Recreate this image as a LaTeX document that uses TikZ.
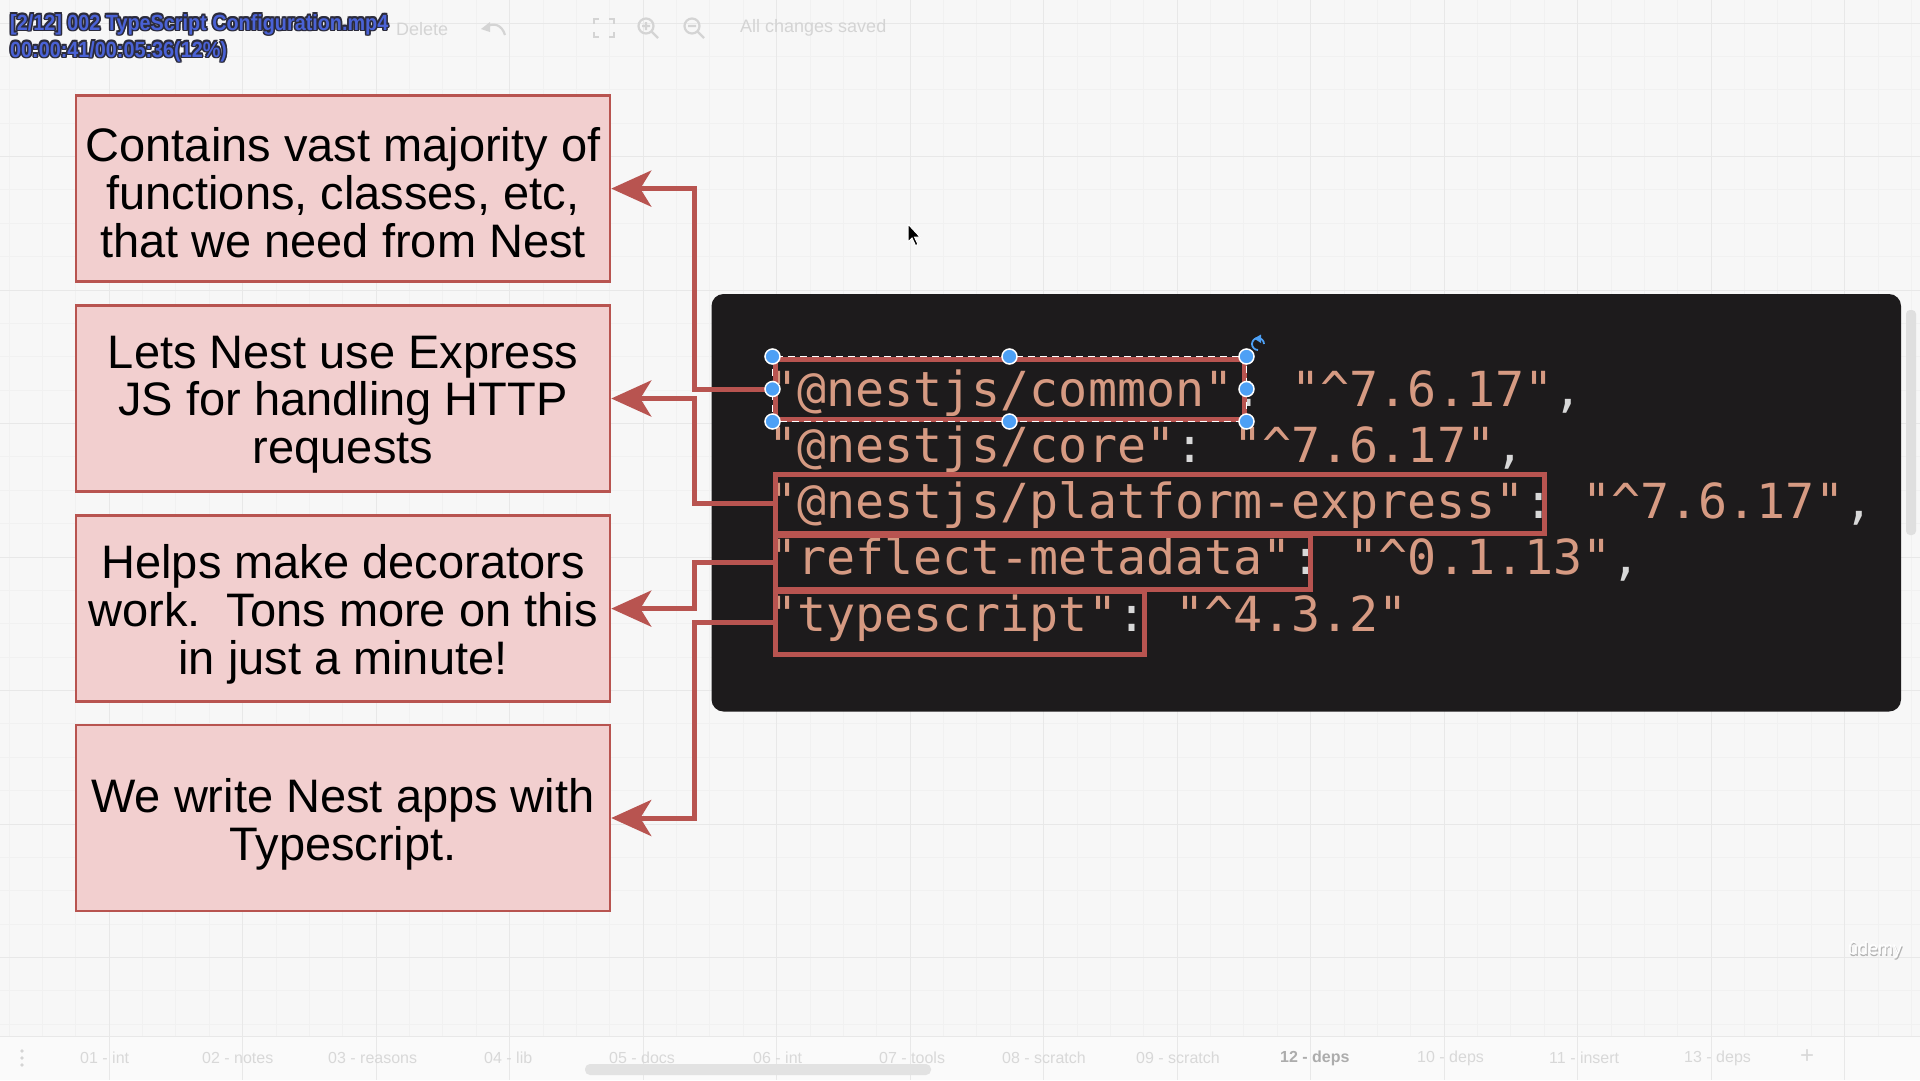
\documentclass[tikz,border=0pt]{standalone}
\usepackage{fontspec}
\setmainfont{Liberation Sans}
\newfontfamily\codefont{DejaVu Sans Mono}
\newfontfamily\titlefont[FakeStretch=0.9]{Liberation Sans}
\usetikzlibrary{arrows.meta}
\definecolor{bg}{HTML}{F7F7F7}
\definecolor{gridmaj}{HTML}{E8E8E8}
\definecolor{gridmin}{HTML}{F1F1F1}
\definecolor{boxfill}{HTML}{F2CFCF}
\definecolor{boxline}{HTML}{B85450}
\definecolor{panel}{HTML}{1D1B1C}
\definecolor{codestr}{HTML}{D69A82}
\definecolor{codepun}{HTML}{D8D8D8}
\definecolor{handle}{HTML}{4DA0F5}
\definecolor{uitext}{HTML}{D4D4D4}
\definecolor{titleblue}{HTML}{4A62D6}
\definecolor{titleedge}{HTML}{2B2B3B}
\tikzset{
  descbox/.style={draw=boxline, fill=boxfill, line width=2.5pt, minimum width=534pt,
    minimum height=186pt, inner sep=0pt},
  desctext/.style={align=center, inner sep=0pt, font=\fontsize{47}{47.8}\selectfont},
  hlbox/.style={draw=boxline, line width=5pt, inner sep=0pt},
  conn/.style={draw=boxline, line width=5pt, -{Stealth[length=40pt,width=36pt,inset=11pt]}},
  codeline/.style={anchor=base west, inner sep=0pt, font=\codefont\fontsize{48.3}{56}\selectfont\frenchspacing},
  selhandle/.style={circle, fill=handle, draw=white, line width=1.5pt, minimum size=15pt, inner sep=0pt},
  uilabel/.style={text=uitext, font=\fontsize{18}{20}\selectfont, inner sep=0pt},
  tablabel/.style={text=uitext!90!white, font=\fontsize{16}{18}\selectfont, inner sep=0pt},
  uiline/.style={draw=uitext, line width=2.2pt},
  titletext/.style={anchor=west, inner sep=0pt, font=\titlefont\bfseries\fontsize{22}{24}\selectfont}
}
\newcommand{\cs}[1]{{\color{codestr}#1}}
\newcommand{\cp}[1]{{\color{codepun}#1}}
\begin{document}
\begin{tikzpicture}[x=1pt,y=-1pt]
\useasboundingbox (0,0) rectangle (1920,1080);
\fill[bg] (0,0) rectangle (1920,1080);
% grid
\foreach \i in {0,...,58} {\draw[gridmin, line width=0.8pt] ({9+\i*33.375},0) -- ({9+\i*33.375},1080);}
\foreach \i in {0,...,33} {\draw[gridmin, line width=0.8pt] (0,{23+\i*33.375}) -- (1920,{23+\i*33.375});}
\foreach \i in {0,...,14} {\draw[gridmaj, line width=1pt] ({-24.5+\i*133.5},0) -- ({-24.5+\i*133.5},1080);}
\foreach \i in {0,...,8} {\draw[gridmaj, line width=1pt] (0,{23+\i*133.5}) -- (1920,{23+\i*133.5});}

% toolbar
\node[uilabel, anchor=west] (del) at (396,29) {Delete};
\node[uilabel, anchor=west] (saved) at (740,28) {All changes saved};
\draw[uiline] (505,35) .. controls (502,25) and (494,22) .. (486,27);
\fill[uitext] (481,29) -- (490,22) -- (490,32) -- cycle;
\draw[uiline] (594,24) -- (594,19) -- (599,19) (609,19) -- (614,19) -- (614,24) (614,32) -- (614,37) -- (609,37) (599,37) -- (594,37) -- (594,32);
\draw[uiline] (646,26) circle (7.5pt) (651.5,31.5) -- (658,38) (642,26) -- (650,26) (646,22) -- (646,30);
\draw[uiline] (692,26) circle (7.5pt) (697.5,31.5) -- (704,38) (688,26) -- (696,26);

% title overlay
\foreach \dx/\dy [count=\k] in {-1.6/0,1.6/0,0/-1.6,0/1.6,-1.2/-1.2,1.2/-1.2,-1.2/1.2,1.2/1.2} {
  \node[titletext, text=titleedge] (ta\k) at ({10+\dx},{24.5+\dy}) {[2/12] 002 TypeScript Configuration.mp4};
  \node[titletext, text=titleedge] (tb\k) at ({10+\dx},{51.5+\dy}) {00:00:41/00:05:36(12\%)};
}
\node[titletext, text=titleblue] (ta) at (10,24.5) {[2/12] 002 TypeScript Configuration.mp4};
\node[titletext, text=titleblue] (tb) at (10,51.5) {00:00:41/00:05:36(12\%)};

% description boxes
\node[descbox] (b1) at (343,188.6) {};
\node[descbox] (b2) at (343,398.5) {};
\node[descbox] (b3) at (343,608.6) {};
\node[descbox] (b4) at (343,818) {};
\node[desctext] (b1t) at ([yshift=-4pt]b1.center) {Contains vast majority of\\functions, classes, etc,\\that we need from Nest};
\node[desctext] (b2t) at ([yshift=-6pt]b2.center) {Lets Nest use Express\\JS for handling HTTP\\requests};
\node[desctext] (b3t) at ([yshift=-6pt]b3.center) {Helps make decorators\\work.\ \ Tons more on this\\in just a minute!};
\node[desctext] (b4t) at ([yshift=-6pt]b4.center) {We write Nest apps with\\Typescript.};

% code panel
\fill[panel, rounded corners=12pt] (711.5,294) rectangle (1901,711.5);
\fill[uitext!70!bg, rounded corners=4pt] (1906,310) rectangle (1916,535);
\node[codeline] (l1) at (768,406) {\cs{"@nestjs/common"}\cp{: }\cs{"\textasciicircum 7.6.17"}\cp{,}};
\node[codeline] (l2) at (768,462.3) {\cs{"@nestjs/core"}\cp{: }\cs{"\textasciicircum 7.6.17"}\cp{,}};
\node[codeline] (l3) at (768,518.6) {\cs{"@nestjs/platform-express"}\cp{: }\cs{"\textasciicircum 7.6.17"}\cp{,}};
\node[codeline] (l4) at (768,574.9) {\cs{"reflect-metadata"}\cp{: }\cs{"\textasciicircum 0.1.13"}\cp{,}};
\node[codeline] (l5) at (768,631.2) {\cs{"typescript"}\cp{: }\cs{"\textasciicircum 4.3.2"}};

% highlight boxes
\node[hlbox, minimum width=469pt, minimum height=60pt] (hc) at (1009.5,389) {};
\node[hlbox, minimum width=769pt, minimum height=59pt] (hp) at (1159.5,503.5) {};
\node[hlbox, minimum width=535pt, minimum height=54pt] (hr) at (1042.5,562) {};
\node[hlbox, minimum width=369pt, minimum height=63pt] (ht) at (959.5,622.5) {};

% connectors
\coordinate (bx) at (694,0);
\draw[conn] (hc.west) -- (hc.west -| bx) |- (b1.east);
\draw[conn] (hp.west) -- (hp.west -| bx) |- (b2.east);
\draw[conn] (hr.west) -- (hr.west -| bx) |- (b3.east);
\draw[conn] (ht.west) -- (ht.west -| bx) |- (b4.east);

% selection of hc
\draw[white, line width=1.2pt, dash pattern=on 7pt off 5pt] (hc.north west) rectangle (hc.south east);
\foreach \a [count=\k] in {north west,north,north east,west,east,south west,south,south east} {
  \node[selhandle] (h\k) at (hc.\a) {};
}
\draw[handle, line width=1.8pt] (1258,344) ++(90:6) arc (90:360:6);
\fill[handle] (1261,334.5) -- (1261,343) -- (1254,338.5) -- cycle;

% cursor
\filldraw[fill=black, draw=white, line width=1pt] (908,224) -- (908,242) -- (912,238) -- (915.5,245.5) -- (918,244.5) -- (914.5,237) -- (920,237) -- cycle;

% udemy watermark
\node[text=gray!60, font=\fontsize{18}{20}\selectfont, inner sep=0pt] (ud0) at (1876,951.5) {ûdemy};
\node[text=white, font=\fontsize{18}{20}\selectfont, inner sep=0pt] (ud) at (1875,950) {ûdemy};

% bottom bar
\fill[bg!60!white] (0,1036) rectangle (1920,1080);
\draw[gridmaj, line width=1pt] (0,1036) -- (1920,1036);
\foreach \i in {0,...,14} {\draw[gridmaj, line width=1pt] ({-24.5+\i*133.5},1036) -- ({-24.5+\i*133.5},1080);}
\foreach \yy [count=\k] in {1051,1058,1065} {\fill[uitext] (22,\yy) circle (1.8pt) coordinate (dot\k);}
\node[tablabel, anchor=west] (t01) at (80,1058) {01 - int};
\node[tablabel, anchor=west] (t02) at (202,1058) {02 - notes};
\node[tablabel, anchor=west] (t03) at (328,1058) {03 - reasons};
\node[tablabel, anchor=west] (t04) at (484,1058) {04 - lib};
\node[tablabel, anchor=west] (t05) at (609,1058) {05 - docs};
\node[tablabel, anchor=west] (t06) at (753,1058) {06 - int};
\node[tablabel, anchor=west] (t07) at (879,1058) {07 - tools};
\node[tablabel, anchor=west] (t08) at (1002,1058) {08 - scratch};
\node[tablabel, anchor=west] (t09) at (1136,1058) {09 - scratch};
\node[tablabel, anchor=west, text=gray!65, font=\bfseries\fontsize{16}{18}\selectfont] (t12) at (1280,1058) {12 - deps};
\node[tablabel, anchor=west] (t10) at (1417,1058) {10 - deps};
\node[tablabel, anchor=west] (t11) at (1549,1058) {11 - insert};
\node[tablabel, anchor=west] (t13) at (1684,1058) {13 - deps};
\node[tablabel, font=\fontsize{24}{24}\selectfont] (plus) at (1807,1057) {+};
\fill[uitext!60!bg, rounded corners=5pt] (585,1064) rectangle (931,1075);
\end{tikzpicture}
\end{document}
